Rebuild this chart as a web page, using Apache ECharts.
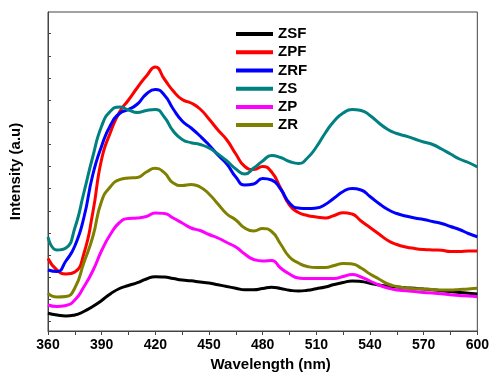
<!DOCTYPE html>
<html>
<head>
<meta charset="utf-8">
<script src="https://cdn.jsdelivr.net/npm/echarts@6/dist/echarts.min.js"></script>
<style>html,body{margin:0;padding:0;background:#fff;}#c{width:492px;height:379px;}</style>
</head>
<body>
<div id="c"></div>
<script>
const wavelengths = [360,365,370,375,380,385,390,395,400,405,410,415,420,425,430,435,440,445,450,455,460,465,470,475,480,485,490,495,500,505,510,515,520,525,530,535,540,545,550,555,560,565,570,575,580,585,590,595,600];
const ZSF = [17.7,16,15,16,19.5,24.5,30.5,37.3,42.5,45.5,48.3,52,54.3,54,52.5,51,50.2,49,48,46.3,44.5,42.8,41.2,41.3,42.5,43.7,42.5,40.8,40,40.7,42.3,44,46.5,48.5,50,49.5,47.8,46,45,44,43.3,42.7,42,41.3,40.3,39.4,38.6,37.8,37];
const ZPF = [72.5,61,57,59,77,118,172,199,219,231,243.5,255,264,252,240,231.5,228,222,212,201,191,177,164.5,161.5,164.5,159,143,126,118.5,115.5,114,113,115.5,118.3,117,110,103.5,97,90.5,86.5,84,82.5,81.5,81,80.7,79.5,79.5,80,80];
const ZRF = [61,59.5,70,85,113,156,185,206,217.5,221.5,227,237,241.5,236,222,210,203,195,186,176,167,154,146,147,152.5,151,142,128,123,122.5,123,126.5,133,139.5,142.5,141,134.5,127.5,121.5,117.5,115,113,111.5,109.5,107.5,104.5,101.5,97.5,94.3];
const ZS = [94,81,83,103,138,174,205,220,224,221,218.5,220.5,221.5,214,200,191.5,188.3,186.5,183,177,170,162,157,163,170,175.5,173.5,169.5,167.5,173,184,198,210,218,221.5,220.5,215.5,208,201.5,197.5,195,192,189,186.5,182,177,172,168.5,164];
const ZP = [26,24.5,25.5,31,44,60,80.5,97,108.5,112.5,113,114.5,118,117.5,113,108,103,100.5,96.5,93,88.5,84,77,71.5,70,70.5,63,57,53,52.5,52.5,52.5,52.5,54.5,56.5,54,50,46,43,41,40.3,39.5,38.5,38,37.3,36.3,35.5,35,34.3];
const ZR = [37.7,34,34.5,43,68,94,130,144.5,151.3,153,153.5,159,162.7,158.3,148,145.5,146.5,144,137,127,117,111,103,100,102.5,99.5,87,74,68,64.5,63.5,63.5,65.5,67.5,67,63,57,52,47,44.5,43,42.3,42,41.5,41,41,41.5,42,42.7];
const seriesNames = ['ZSF','ZPF','ZRF','ZS','ZP','ZR'];
const seriesData = [ZSF, ZPF, ZRF, ZS, ZP, ZR];
const seriesColors = ['#000000','#ff0000','#0000ff','#008080','#ff00ff','#808000'];
const yTickValues = [9.4,31.6,53.7,75.9,98,120.2,142.3,164.5,186.6,208.8,230.9,253.1,275.2,297.4];

const chart = echarts.init(document.getElementById('c'), null, {renderer:'canvas'});
const font = "'Liberation Sans', Arial, sans-serif";
chart.setOption({
  animation: false,
  backgroundColor: '#fff',
  grid: {left: 47.5, right: 14.5, top: 12, bottom: 48, show: true, borderColor: '#444', borderWidth: 1, backgroundColor: 'transparent'},
  legend: {
    orient: 'vertical', left: 236, top: 25, padding: 0, itemGap: 0,
    itemWidth: 37, itemHeight: 4, icon: 'rect',
    data: seriesNames,
    textStyle: {fontFamily: font, fontWeight: 'bold', fontSize: 15, color: '#000', lineHeight: 18.2}
  },
  xAxis: {
    type: 'value', min: 360, max: 600, interval: 30,
    axisLine: {show: true, lineStyle: {color: '#444', width: 1}},
    axisTick: {show: true, length: 4, lineStyle: {color: '#444'}},
    minorTick: {show: true, splitNumber: 2, length: 4, lineStyle: {color: '#444'}},
    splitLine: {show: false},
    axisLabel: {fontFamily: font, fontWeight: 'bold', fontSize: 14, color: '#000', margin: 7},
    name: 'Wavelength (nm)', nameLocation: 'middle', nameGap: 21,
    nameTextStyle: {fontFamily: font, fontWeight: 'bold', fontSize: 15, color: '#000', padding: [0,0,0,16]}
  },
  yAxis: {
    type: 'value', min: 0, max: 319,
    axisLine: {show: true, lineStyle: {color: '#444', width: 1}},
    axisTick: {show: true, inside: true, length: 3, customValues: yTickValues, lineStyle: {color: '#444'}},
    splitLine: {show: false},
    axisLabel: {show: false},
    name: 'Intensity (a.u)', nameLocation: 'middle', nameGap: 25,
    nameTextStyle: {fontFamily: font, fontWeight: 'bold', fontSize: 15, color: '#000'}
  },
  series: seriesNames.map((n, i) => ({
    name: n, type: 'line', smooth: 0.55, showSymbol: false,
    data: wavelengths.map((w, j) => [w, seriesData[i][j]]),
    lineStyle: {color: seriesColors[i], width: 3},
    itemStyle: {color: seriesColors[i]}
  }))
});
</script>
</body>
</html>
